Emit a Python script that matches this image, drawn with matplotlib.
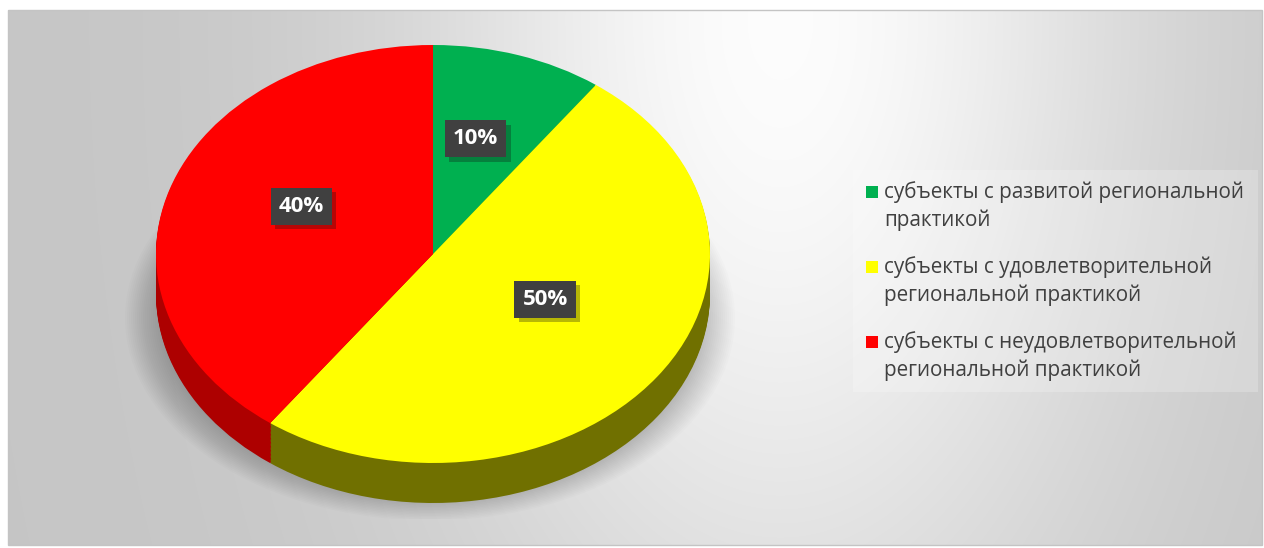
import numpy as np
import matplotlib.pyplot as plt
from matplotlib.patches import Rectangle, Ellipse
import matplotlib.patheffects as pe

# данные
labels = ['субъекты с развитой региональной\nпрактикой',
          'субъекты с удовлетворительной\nрегиональной практикой',
          'субъекты с неудовлетворительной\nрегиональной практикой']
shares = [10, 50, 40]
top_colors = ['#00b050', '#ffff00', '#ff0000']
side_colors = ['#007a38', '#707000', '#ad0000']

plt.rcParams['font.family'] = ['Open Sans', 'DejaVu Sans']

W, H = 1264, 548
fig = plt.figure(figsize=(W / 100, H / 100), dpi=100)
fig.patch.set_facecolor('white')

# фон (координаты в пикселях)
bg = fig.add_axes([0, 0, 1, 1])
yy, xx = np.mgrid[10:545, 8:1262]
r = np.hypot(xx - 780, (yy - 20) * 0.55)
shade = 0.775 + 0.215 * np.exp(-(r / 360) ** 2)
bg.imshow(np.dstack([shade] * 3), extent=(8, 1262, 545, 10),
          aspect='auto', interpolation='bilinear')
bg.add_patch(Rectangle((8, 10), 1254, 535, fill=False, ec='#c4c4c4', lw=1))

# тень под диаграммой (мягкая, много слоёв)
clip = Rectangle((0, 0), W, 519, transform=bg.transData)
for k in range(36):
    e = Ellipse((430, 318), 610 - k * 4, 405 - k * 3, fc='black', ec='none', alpha=0.013)
    bg.add_patch(e)
    e.set_clip_path(clip)
bg.set_xlim(0, W)
bg.set_ylim(H, 0)
bg.axis('off')

# объёмная круговая диаграмма
cx, cy, rx, ry, depth = 433, 254, 277, 209, 40
d = depth / ry
ax = fig.add_axes([(cx - rx) / W, (H - cy - ry - depth) / H, 2 * rx / W, (2 * ry + depth) / H])
n = 30
for i in range(n):
    ax.pie(shares, colors=side_colors, startangle=90, counterclock=False,
           center=(0, -d * (1 - i / n)), wedgeprops=dict(linewidth=0))
wedges, _, autotexts = ax.pie(
    shares, colors=top_colors, startangle=90, counterclock=False,
    autopct=lambda p: f'{p:.0f}%', pctdistance=0.5,
    wedgeprops=dict(linewidth=0),
    textprops=dict(color='white', fontsize=16, fontweight='bold'))
for t in autotexts:
    x, y = t.get_position()
    t.set_position((x, y + 0.075))
    t.set_bbox(dict(boxstyle='square,pad=0.36', fc='#404040', ec='none'))
    t.get_bbox_patch().set_path_effects(
        [pe.SimplePatchShadow(offset=(3, -3), alpha=0.3), pe.Normal()])
ax.set_aspect('auto')
ax.set_xlim(-1, 1)
ax.set_ylim(-1 - d, 1)
ax.axis('off')

# легенда
bg.add_patch(Rectangle((853, 170), 405, 222, fc='white', ec='none', alpha=0.22))
for i, (lab, col) in enumerate(zip(labels, top_colors)):
    yc = 193 + i * 75
    bg.add_patch(Rectangle((866, yc - 7), 12, 12, fc=col, ec='none'))
    bg.text(884, yc - 12, lab, fontsize=14.9, color='#404040', va='top', ha='left',
            linespacing=1.42)

plt.savefig('out.png', dpi=100)
